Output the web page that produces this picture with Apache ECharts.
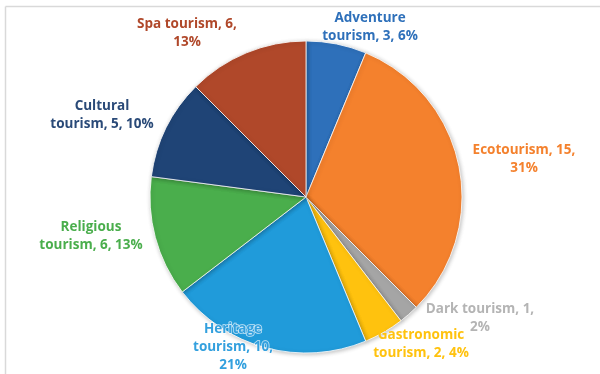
<!DOCTYPE html>
<html>
<head>
<meta charset="utf-8">
<script src="https://cdn.jsdelivr.net/npm/echarts@6/dist/echarts.min.js"></script>
<style>
  html, body { margin: 0; padding: 0; background: #fff; }
  #chart { width: 600px; height: 374px; }
</style>
</head>
<body>
<div id="chart"></div>
<script>
// Tourism types and the number of studies for each
const categories = [
  'Adventure tourism', 'Ecotourism', 'Dark tourism', 'Gastronomic tourism',
  'Heritage tourism', 'Religious tourism', 'Cultural tourism', 'Spa tourism'
];
const values = [3, 15, 1, 2, 10, 6, 5, 6];

const sliceColors = ['#2E70BA', '#F4812D', '#A5A5A5', '#FFC20E', '#209BDA', '#4AAE4C', '#1F4476', '#B0482A'];
const labelColors = ['#2E70BA', '#F4812D', '#B4B4B4', '#FFC20E', '#33A0DE', '#4AAE4C', '#2A4A78', '#B0482A'];
// word index after which each label wraps to a new line
const labelBreaks = [[0], [1], [2], [0], [0, 2], [0], [0], [2]];
// label block centres
const labelPos = [
  [370, 27], [524, 159], [480, 318], [421, 344],
  [233, 347], [91, 236], [102, 115], [187, 33]
];

function labelText(idx, value, percent) {
  const words = (categories[idx] + ', ' + value + ', ' + percent + '%').split(' ');
  let out = '';
  words.forEach((w, i) => {
    out += w;
    if (i < words.length - 1) out += labelBreaks[idx].includes(i) ? '\n' : ' ';
  });
  return out;
}

const chart = echarts.init(document.getElementById('chart'), null, { renderer: 'canvas' });

chart.setOption({
  animation: false,
  backgroundColor: '#fff',
  graphic: [
    { type: 'line', shape: { x1: 5.5, y1: 6.5, x2: 600, y2: 6.5 }, style: { stroke: '#D9D9D9', lineWidth: 1.5 } },
    { type: 'line', shape: { x1: 5.5, y1: 6.5, x2: 5.5, y2: 374 }, style: { stroke: '#D9D9D9', lineWidth: 1.5 } }
  ],
  series: [{
    type: 'pie',
    center: [306, 197],
    radius: 156,
    startAngle: 90,
    clockwise: true,
    percentPrecision: 0,
    avoidLabelOverlap: false,
    itemStyle: {
      borderColor: '#fff',
      borderWidth: 0.8,
      shadowBlur: 4,
      shadowOffsetX: 1,
      shadowOffsetY: 1,
      shadowColor: 'rgba(0,0,0,0.25)'
    },
    label: {
      show: true,
      position: 'outside',
      fontFamily: 'Open Sans',
      fontWeight: 'bold',
      fontSize: 13.5,
      lineHeight: 18,
      align: 'center',
      overflow: 'none',
      width: 220,
      formatter: p => labelText(p.dataIndex, p.value, p.percent)
    },
    labelLine: { show: false },
    labelLayout: p => ({
      x: labelPos[p.dataIndex][0],
      y: labelPos[p.dataIndex][1],
      align: 'center',
      verticalAlign: 'middle'
    }),
    data: categories.map((name, i) => ({
      name,
      value: values[i],
      itemStyle: { color: sliceColors[i] },
      label: i === 4
        ? { color: labelColors[i], textBorderColor: 'rgba(255,255,255,0.75)', textBorderWidth: 1.5 }
        : { color: labelColors[i] },
      labelLine: i === 2
        ? { show: true, length: 14, length2: 6, lineStyle: { color: '#A5A5A5', width: 1 } }
        : { show: false }
    }))
  }]
});
</script>
</body>
</html>
